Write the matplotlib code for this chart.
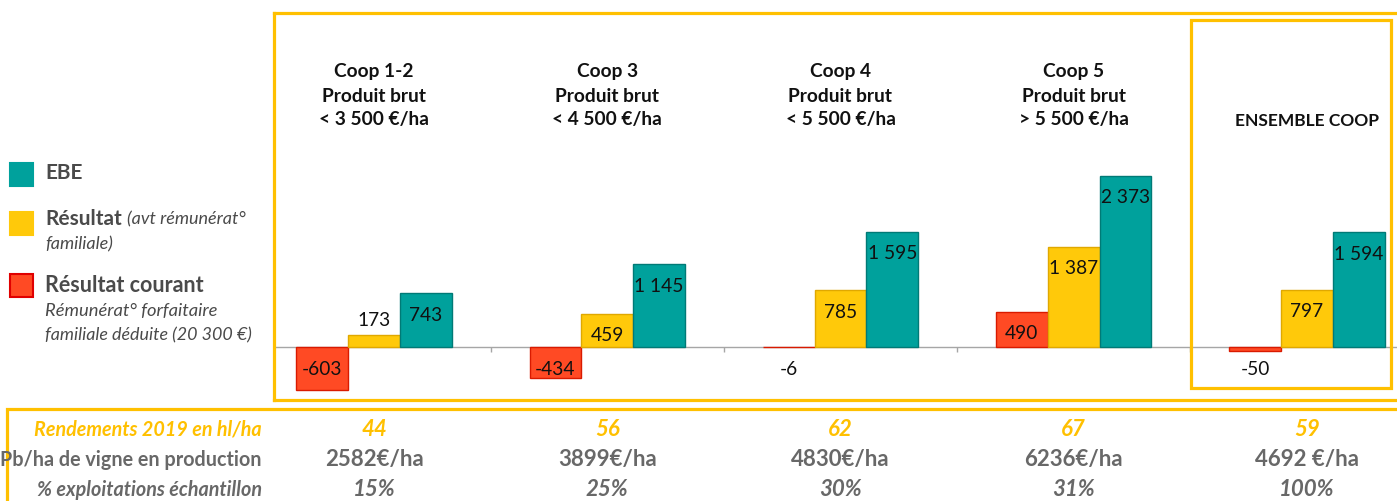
import numpy as np
import matplotlib
matplotlib.use("Agg")
import matplotlib.pyplot as plt
from matplotlib.patches import Rectangle
from matplotlib.transforms import blended_transform_factory

plt.rcParams['font.family'] = ['Lato', 'DejaVu Sans']

# données
groupes = ["Coop 1-2\nProduit brut\n< 3 500 €/ha",
           "Coop 3\nProduit brut\n< 4 500 €/ha",
           "Coop 4\nProduit brut\n< 5 500 €/ha",
           "Coop 5\nProduit brut\n> 5 500 €/ha",
           "ENSEMBLE COOP"]
resultat_courant = [-603, -434, -6, 490, -50]
resultat = [173, 459, 785, 1387, 797]
ebe = [743, 1145, 1595, 2373, 1594]
rendements = ["44", "56", "62", "67", "59"]
pb_ha = ["2582€/ha", "3899€/ha", "4830€/ha", "6236€/ha", "4692 €/ha"]
pct_expl = ["15%", "25%", "30%", "31%", "100%"]

W, H = 1397, 502
JAUNE = "#FFC000"
GRIS = "#686868"
TEAL = "#00A19C"
JAUNE_BAR = "#FFC90A"
ROUGE = "#FF4A24"


def fx(px):
    return px / W


def fy(py):
    return 1 - py / H


fig = plt.figure(figsize=(W / 100, H / 100), dpi=100)
ax = fig.add_axes([fx(274), fy(401), fx(1400) - fx(274), fy(14) - fy(401)])
tr = blended_transform_factory(ax.transData, fig.transFigure)

x = np.arange(len(groupes))
w = 0.222
series = [(resultat_courant, ROUGE, "#D91A00", -w),
          (resultat, JAUNE_BAR, "#E0A800", 0),
          (ebe, TEAL, "#007A76", w)]

for vals, col, edge, off in series:
    ax.bar(x + off, vals, width=w, color=col, edgecolor=edge, linewidth=1.0, zorder=3)
    for xi, v in zip(x + off, vals):
        lab = f"{v:,}".replace(",", " ")
        if v < 0:
            ypos = -300
        elif v > 300:
            ypos = v - 290
        else:
            ypos = v + 210
        ax.text(xi, ypos, lab, ha="center", va="center", fontsize=13.8, color="#111111", zorder=4)

ax.set_xlim(-0.429, 4.399)
ax.set_ylim(-736, 4636)
ax.axhline(0, color="#A6A6A6", linewidth=1.0, zorder=2)
ax.vlines(x[:-1] + 0.5, -70, 0, color="#A6A6A6", linewidth=1.0, zorder=2)
ax.set_xticks([])
ax.set_yticks([])
for s in ax.spines.values():
    s.set_color(JAUNE)
    s.set_linewidth(2.3)

# titres des groupes
for xi, g in zip(x[:-1], groupes[:-1]):
    ax.text(xi, fy(96), g, transform=tr, ha="center", va="center",
            fontsize=13.8, fontweight="bold", color="#111111", linespacing=1.5)
ax.text(x[-1], fy(121), groupes[-1], ha="center", va="center", fontsize=12.5,
        fontweight="bold", color="#111111", transform=tr)

# cadre ENSEMBLE COOP
fig.patches.append(Rectangle((fx(1191), fy(389)), fx(1391) - fx(1191), fy(21) - fy(389),
                             transform=fig.transFigure, fill=False, edgecolor=JAUNE, linewidth=2.3))
# cadre tableau
fig.patches.append(Rectangle((fx(7), fy(520)), fx(1420) - fx(7), fy(410) - fy(520),
                             transform=fig.transFigure, fill=False, edgecolor=JAUNE, linewidth=2.3))

# légende
leg = [(TEAL, None, 175), (JAUNE_BAR, None, 224), (ROUGE, "#E00000", 286)]
for col, edge, yc in leg:
    fig.patches.append(Rectangle((fx(10), fy(yc + 11.5)), fx(23), fy(0) - fy(23),
                                 transform=fig.transFigure, facecolor=col,
                                 edgecolor=edge if edge else col, linewidth=1.5))
LEG = "#4A4A4A"
fig.text(fx(45), fy(173), "EBE", fontsize=15, fontweight="bold", color=LEG, va="center")
t1 = fig.text(fx(45), fy(219), "Résultat", fontsize=15, fontweight="bold", color=LEG, va="center")
fig.text(fx(45), fy(244), "familiale)", fontsize=13, style="italic", color=LEG, va="center")
fig.text(fx(45), fy(286), "Résultat courant", fontsize=15.5, fontweight="bold", color=LEG, va="center")
fig.text(fx(45), fy(311), "Rémunérat° forfaitaire", fontsize=13.2, style="italic", color=LEG, va="center")
fig.text(fx(45), fy(335), "familiale déduite (20 300 €)", fontsize=12.9, style="italic", color=LEG, va="center")
fig.canvas.draw()
bb = t1.get_window_extent()
fig.text(bb.x1 / W + fx(5), fy(219), "(avt rémunérat°", fontsize=13, style="italic",
         color=LEG, va="center")

# tableau du bas
lignes = [("Rendements 2019 en hl/ha", rendements, JAUNE, "italic", 430),
          ("Pb/ha de vigne en production", pb_ha, GRIS, "normal", 460),
          ("% exploitations échantillon", pct_expl, GRIS, "italic", 490)]
for nom, vals, col, st, yc in lignes:
    fig.text(fx(262), fy(yc), nom, ha="right", va="center", fontsize=14.2,
             fontweight="bold", style=st, color=col)
    for xi, v in zip(x, vals):
        ax.text(xi, fy(yc), v, ha="center", va="center", fontsize=16, fontweight="bold",
                style=st, color=col, transform=tr, clip_on=False)

fig.savefig("out.png", dpi=100)
